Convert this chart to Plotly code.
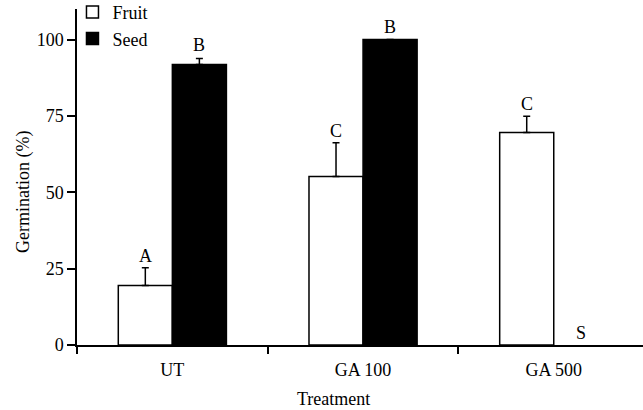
import plotly.graph_objects as go

treatments = ["UT", "GA 100", "GA 500"]
fruit = [19.5, 55.2, 69.6]
fruit_err = [5.8, 11.0, 5.3]
seed = [91.8, 100.0, None]
seed_err = [2.0, 0.0, 0.0]
fruit_letters = ["A", "C", "C"]
seed_letters = ["B", "B", "S"]
yticks = [0, 25, 50, 75, 100]

FONT = "Liberation Serif"
bargap = 0.433
xpos = list(range(len(treatments)))
half = (1 - bargap) / 4  # offset of each bar centre from the category centre

fig = go.Figure()
fig.add_trace(go.Bar(
    name="Fruit", x=xpos, y=fruit,
    marker=dict(color="white", line=dict(color="black", width=1.5)),
    error_y=dict(type="data", array=fruit_err, arrayminus=[0] * 3, symmetric=False,
                 color="black", thickness=1.5, width=3.5),
))
fig.add_trace(go.Bar(
    name="Seed", x=xpos, y=seed,
    marker=dict(color="black", line=dict(color="black", width=1.5)),
    error_y=dict(type="data", array=seed_err, arrayminus=[0] * 3, symmetric=False,
                 color="black", thickness=1.5, width=3.5),
))

for i in xpos:
    fig.add_annotation(x=i - half, y=fruit[i] + fruit_err[i], text=fruit_letters[i],
                       showarrow=False, yanchor="bottom", yshift=0,
                       font=dict(family=FONT, size=18, color="black"))
    sv = seed[i] if seed[i] is not None else 0
    fig.add_annotation(x=i + half, y=sv + seed_err[i], text=seed_letters[i],
                       showarrow=False, yanchor="bottom", yshift=(1 if seed[i] is not None else 0),
                       font=dict(family=FONT, size=18, color="black"))

fig.add_annotation(text="Treatment", xref="paper", yref="paper", x=(333.5 - 77.5) / 565.5,
                   y=0, yshift=-54, showarrow=False, yanchor="middle",
                   font=dict(family=FONT, size=18, color="black"))
fig.add_annotation(text="Germination (%)", xref="paper", yref="paper", x=0, xshift=-54,
                   y=(345 - 192) / 336, showarrow=False, textangle=-90,
                   xanchor="center", yanchor="middle",
                   font=dict(family=FONT, size=18, color="black"))

fig.update_layout(
    width=643, height=410,
    margin=dict(l=77, r=0, t=9, b=65, autoexpand=False),
    paper_bgcolor="white", plot_bgcolor="white",
    barmode="group", bargap=bargap, bargroupgap=0,
    font=dict(family=FONT, size=18, color="black"),
    showlegend=True,
    legend=dict(x=-0.008, y=1.045, xanchor="left", yanchor="top",
                bgcolor="rgba(0,0,0,0)", font=dict(family=FONT, size=18),
                itemwidth=30, tracegroupgap=0),
    xaxis=dict(range=[-0.5, 2.468], tickvals=xpos, ticktext=treatments,
               ticks="", showline=True, linecolor="black", linewidth=1.5,
               showgrid=False, zeroline=False, ticklabelstandoff=8,
               minor=dict(tick0=-0.5, dtick=1, ticks="outside", ticklen=7,
                          tickwidth=1.5, tickcolor="black", showgrid=False)),
    yaxis=dict(range=[0, 110], tickvals=yticks, ticks="outside", ticklen=8,
               tickwidth=1.5, tickcolor="black", showline=True, linecolor="black",
               linewidth=1.5, showgrid=False, zeroline=False),
)

fig.write_html("out.html", config={"displayModeBar": False},
               post_script="document.body.style.margin='0px';")
